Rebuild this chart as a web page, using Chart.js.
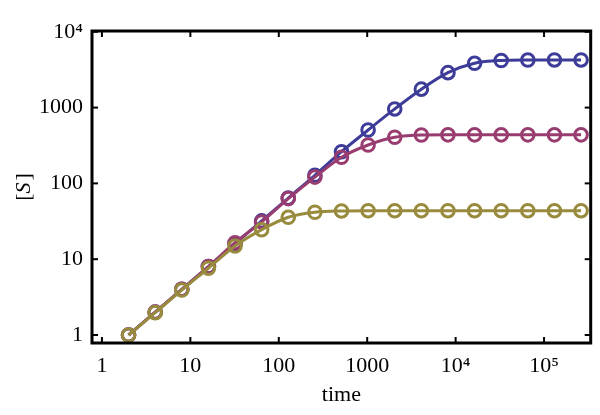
<!DOCTYPE html>
<html><head><meta charset="utf-8">
<script src="https://cdn.jsdelivr.net/npm/chart.js@4"></script>
<style>html,body{margin:0;padding:0;background:#fff}#wrap{width:600px;height:415px}</style>
</head><body><div id="wrap"><canvas id="c" width="600" height="415"></canvas></div>
<script>
// ---- data ----
const times = [2,4,8,16,32,64,128,256,512,1024,2048,4096,8192,16384,32768,65536,131072,262144];
const seriesBlue = [1,2,4,8,16,32,64,128,262,506,960,1750,2890,3840,4180,4240,4250,4250];
const seriesMagenta = [1,2,4,8,16.5,31,63,121,221,321,406,435,437,437,437,437,437,437];
const seriesOlive = [1,1.97,3.92,7.6,14.9,24.5,35.7,41.6,43.3,43.6,43.6,43.6,43.6,43.6,43.6,43.6,43.6,43.6];
const xTickValues = [1,10,100,1000,10000,100000];
const xTickLabels = ['1','10','100','1000','10\u2074','10\u2075'];
const yTickValues = [1,10,100,1000,10000];
const yTickLabels = ['1','10','100','1000','10\u2074'];
const xTitle = 'time';
const yTitleParts = ['[', 'S', ']'];

const FONT = 'Liberation Serif';
const tickFont = {family: FONT, size: 22};

function pts(vals){ return times.map((t,i)=>({x:t, y:vals[i]})); }
function ds(label, vals, color, order){
  return {label, data: pts(vals), borderColor: color, borderWidth: 3,
    pointRadius: 6.3, pointHoverRadius: 6.3, pointBorderWidth: 3, pointBorderColor: color,
    pointBackgroundColor: 'rgba(0,0,0,0)', fill: false,
    cubicInterpolationMode: 'monotone', order};
}

const framePlugin = {
  id: 'frame',
  afterDatasetsDraw(chart){
    const {ctx, chartArea: a, scales} = chart;
    ctx.save();
    ctx.strokeStyle = '#000';
    ctx.lineWidth = 2;
    const L = 6;
    xTickValues.forEach(v=>{
      const px = scales.x.getPixelForValue(v);
      ctx.beginPath(); ctx.moveTo(px, a.bottom); ctx.lineTo(px, a.bottom - L); ctx.stroke();
      ctx.beginPath(); ctx.moveTo(px, a.top); ctx.lineTo(px, a.top + L); ctx.stroke();
    });
    yTickValues.forEach(v=>{
      const py = scales.y.getPixelForValue(v);
      ctx.beginPath(); ctx.moveTo(a.left, py); ctx.lineTo(a.left + L, py); ctx.stroke();
      ctx.beginPath(); ctx.moveTo(a.right, py); ctx.lineTo(a.right - L, py); ctx.stroke();
    });
    ctx.lineWidth = 3;
    ctx.strokeRect(a.left, a.top, a.right - a.left, a.bottom - a.top);
    // y title with italic S
    const cy = (a.top + a.bottom) / 2;
    ctx.translate(24, cy);
    ctx.rotate(-Math.PI/2);
    ctx.fillStyle = '#000';
    ctx.textBaseline = 'middle';
    const fonts = ['22px "' + FONT + '"', 'italic 22px "' + FONT + '"', '22px "' + FONT + '"'];
    let widths = yTitleParts.map((p,i)=>{ ctx.font = fonts[i]; return ctx.measureText(p).width; });
    let total = widths.reduce((s,w)=>s+w,0) + 2;
    let x = -total/2;
    yTitleParts.forEach((p,i)=>{ ctx.font = fonts[i]; ctx.fillText(p, x, 0); x += widths[i] + (i===1?2:0); });
    ctx.restore();
  }
};

new Chart(document.getElementById('c').getContext('2d'), {
  type: 'line',
  data: { datasets: [
    ds('blue', seriesBlue, '#3d3d99', 3),
    ds('magenta', seriesMagenta, '#993d71', 2),
    ds('olive', seriesOlive, '#998b3d', 1)
  ]},
  options: {
    responsive: false, animation: false,
    layout: {padding: {left: 0, top: 31, right: 6, bottom: 0}},
    plugins: {legend: {display: false}, tooltip: {enabled: false}},
    scales: {
      x: {
        type: 'logarithmic', min: 0.772, max: 337000, bounds: 'data',
        afterBuildTicks: s => { s.ticks = xTickValues.map(v=>({value: v})); },
        afterFit: s => { s.height = 72; },
        grid: {display: false, drawTicks: false}, border: {display: false},
        ticks: {callback: (v,i)=>xTickLabels[i], font: tickFont, color: '#000', padding: 10, maxRotation: 0, autoSkip: false},
        title: {display: true, text: xTitle, font: tickFont, color: '#000', padding: {top: 0, bottom: 7}}
      },
      y: {
        type: 'logarithmic', min: 0.784, max: 10240, bounds: 'data',
        afterBuildTicks: s => { s.ticks = yTickValues.map(v=>({value: v})); },
        afterFit: s => { s.width = 92; },
        grid: {display: false, drawTicks: false}, border: {display: false},
        ticks: {callback: (v,i)=>yTickLabels[i], font: tickFont, color: '#000', padding: 9, autoSkip: false}
      }
    }
  },
  plugins: [framePlugin]
});
</script></body></html>
